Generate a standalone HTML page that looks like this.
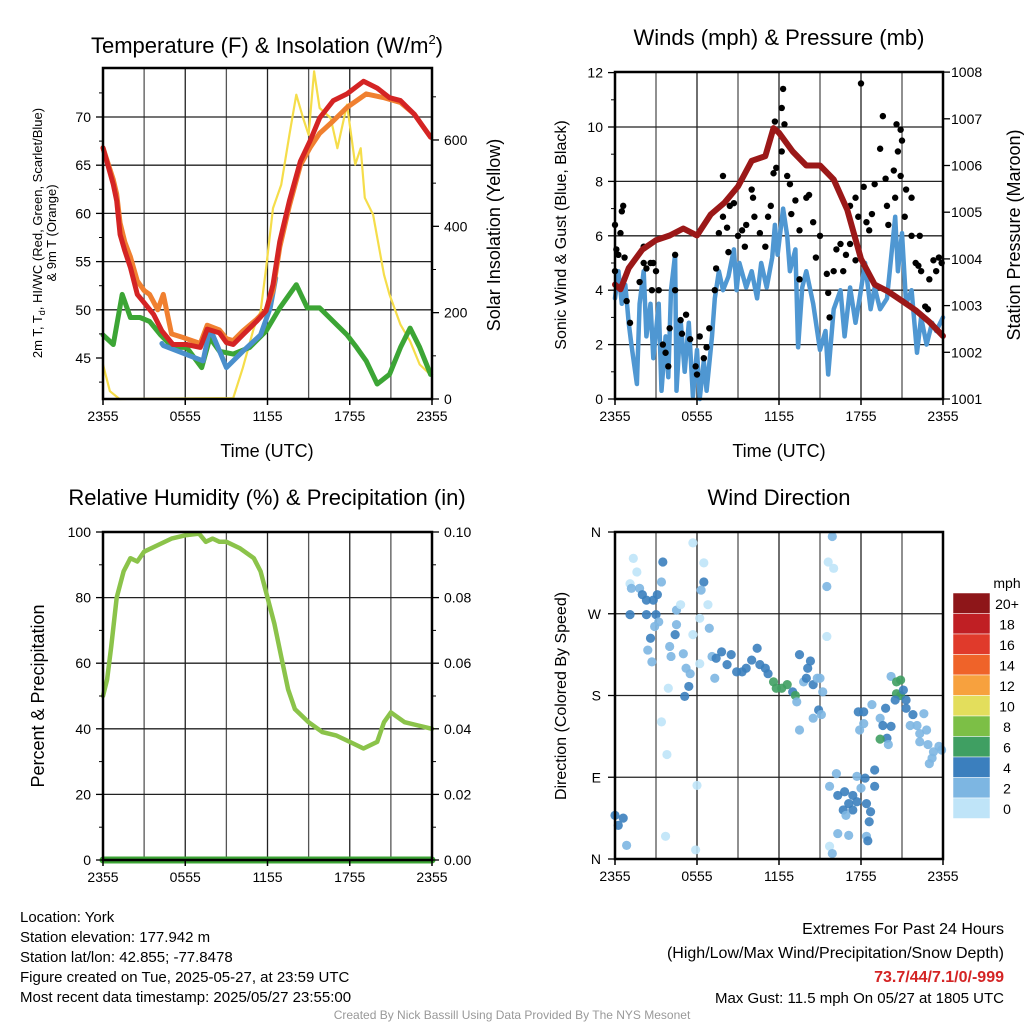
<!DOCTYPE html>
<html><head><meta charset="utf-8"><style>
body{margin:0;background:#fff;width:1024px;height:1024px;overflow:hidden}
svg{font-family:"Liberation Sans",sans-serif}
</style></head><body>
<svg id="c" width="1024" height="1024" xmlns="http://www.w3.org/2000/svg"></svg>
<script>
// ---- data (hours since 2355 UTC) ----
const tempHours=[0,0.75,1,1.25,1.6,2,2.5,2.9,3.7,4.3,5.1,6.1,7.1,7.6,8.5,9,9.5,10.2,11.2,11.9,12.4,12.9,13.6,14.4,15.1,15.8,16.8,17.8,19,20,20.9,21.7,22.7,23.9];
const tempRed=[66.8,63,61.3,57.8,56.1,54.4,51.6,50.9,49.5,47.8,46.4,46.4,46.1,48,47.6,46.6,46.4,47.4,48.8,49.9,52.6,57.1,61.3,65.4,67.5,69.9,71.7,72.4,73.7,73,72,71.7,70.3,67.9];
const orangeHours=[0,0.75,1,1.25,1.6,2,2.5,3,3.4,4,4.4,5,5.9,7.1,7.6,8.5,9,9.5,10.2,11.2,11.9,12.4,12.9,13.6,14.4,15.1,15.8,16.8,17.8,19.2,20.5,21.7,22.7,23.9];
const tempOrange=[66.8,63.5,62,59,57,55.5,53,52,51.6,50,51.6,47.5,47.1,46.5,48.4,47.9,47,46.8,47.8,49,50,52,56.5,60.8,65,66.8,68.3,69.6,71,72.4,72,71.5,70.3,67.9];
const dewHours=[4.3,4.4,7.3,7.8,8.3,9,9.5,10.2,11.5,12.2,12.6];
const dewBlue=[46.5,46.3,44.7,48.1,46.4,44,44.7,45.7,47.4,50.2,53.3];
const wcHours=[0,0.75,1.4,2,2.7,3.4,4.2,5.1,6.1,7.2,7.8,8.5,9.5,10.7,11.9,12.9,14.1,14.9,15.8,16.8,17.8,18.5,19.2,20,20.9,21.7,22.4,23.1,23.9];
const wcGreen=[47.4,46.4,51.6,49.2,49.2,48.8,47.4,46.1,46.1,44,47.1,45.7,45.4,46.1,47.8,50.2,52.6,50.2,50.2,48.8,47.4,46.1,44.7,42.3,43.3,46.1,48.1,46.1,43.3];
const solHours=[0,0.5,1.2,9.5,10.2,11,11.5,11.9,12.4,13,13.6,14.1,14.6,15,15.4,15.8,16.6,17.1,17.8,18.4,18.8,19.1,19.7,20.5,20.9,21.7,22.4,23.1,23.9];
const solVals=[80,18,0,2,72,164,203,303,442,496,612,705,651,612,759,674,651,581,682,543,581,466,427,288,242,172,134,80,56];

const spdHours=[0,0.25,0.5,0.75,1,1.2,1.6,1.8,2.1,2.3,2.6,2.8,3.2,3.4,3.7,3.9,4.1,4.4,4.5,4.8,5.1,5.4,5.7,6,6.2,6.5,6.7,7.1,7.3,7.6,7.9,8.3,8.7,8.9,9.1,9.6,10,10.4,10.7,11.1,11.5,11.7,11.9,12.3,12.6,12.8,13.2,13.4,13.7,14,14.5,15,15.4,15.6,16,16.5,16.8,17.2,17.6,17.9,18.3,18.7,19,19.4,19.9,20.2,20.5,20.7,21,21.3,21.7,22.1,22.4,22.8,23.2,23.5,24];
const spdVals=[3.7,4.7,3.5,4.2,2.8,2.0,0.55,3.5,4.7,2.3,3.5,1.5,3.5,0.3,2.3,0.8,4.0,5.3,0.3,2.9,1.0,2.8,0.1,1.8,0,1.4,0.3,2.3,3.7,4.7,4.0,4.5,5.5,4.0,5.0,4.1,4.7,3.7,5.0,4.1,5.2,6.4,5.3,7.0,6.0,4.7,5.5,1.9,4.1,4.7,3.5,1.8,2.5,0.9,3.3,4.0,2.3,4.1,2.8,3.7,5.0,3.3,4.1,3.3,3.7,5.2,6.7,4.7,6.1,3.5,4.0,1.7,3.0,2.0,2.8,2.5,3.0];
const gustHours=[0,0,0.1,0.25,0.4,0.5,0.6,0.7,0.85,1.1,1.8,2.1,2.1,2.3,2.6,2.8,2.7,3,3.2,3.5,3.7,3.9,4,4.4,4.4,4.8,4.9,5.2,5.5,5.9,6,6.2,6.5,6.7,6.9,7.3,7.4,7.6,7.9,7.9,8.2,8.3,8.4,8.7,9,9.3,9.5,9.6,10,10.1,10.2,10.6,11,11.2,11.4,11.6,11.7,11.8,12.2,12.3,12.4,12.2,12.6,12.8,12.9,13.2,13.5,13.5,14,14.2,14.5,14.7,15,15.5,15.6,15.7,16,16.2,16.5,16.7,16.9,17.2,17.6,17.2,17.6,17.8,18,18.2,18.4,18.6,18.8,19,19.4,19.6,19.8,19.9,20,20.4,20.5,20.6,20.9,20.7,21,20.9,21.3,21.2,21.7,21.7,22,22.2,22.4,22.3,22.7,22.9,23,23.3,23.5,23.7,23.9];
const gustVals=[4.7,6.4,5.5,5.3,6.1,6.9,7.1,5.2,3.6,2.8,4.3,5,5.6,4.8,5,5,4,4.7,4,2,1.7,1.2,2.6,5.3,4,2.9,2.4,3.1,2.2,1.2,0.9,2.3,1.5,1.9,2.6,4,4.8,6.1,6.7,8.2,6.3,5.4,7.1,7.2,6,6.2,5.6,6.4,7.7,7.4,6.7,6.1,5.6,6.7,7.1,8.3,10.2,8.5,10.7,11.4,10.1,9.1,8.2,7.9,6.8,7.3,6.2,4.4,7.4,7.5,6.5,5.2,6,4.6,3.9,3,4.7,5.5,5.7,4.7,5.3,5.7,5.1,7.1,7.4,6.7,11.6,7.8,6.5,6.2,6.8,7.9,9.2,10.4,8.1,7.1,6.4,8.4,7.4,10.1,9.9,9.1,9.5,8.2,7.7,6.7,7.4,6,5,4.9,4.7,6,3.4,3.3,4.4,5.1,4.7,5.2,5];
const presHours=[0,0.4,1,2,3,4,5,6,7,8,9,10,11,11.6,12,13,14,15,16,17,18,19,20,21,22,23,24];
const presVals=[1003.45,1003.35,1003.8,1004.2,1004.4,1004.5,1004.65,1004.5,1004.95,1005.2,1005.55,1006.1,1006.2,1006.8,1006.7,1006.3,1006.0,1006.0,1005.7,1005.05,1004.0,1003.45,1003.3,1003.1,1002.9,1002.65,1002.35];

const rhHours=[0,0.3,0.6,1,1.5,2,2.5,3,4,5,6,7,7.5,8,8.5,9,10,11,11.5,12,12.5,13,13.5,14,15,16,17,18,19,20,20.5,21,22,23,24];
const rhVals=[50,55,65,80,88,92,91,94,96,98,99,99.5,97,98,97,97,95,92,88,80,72,62,52,46,42,39,38,36,34,36,42,45,42,41,40];
const precipHours=[0,24];
const precipVals=[0,0];

const dirHours=[0,0.24,0.6,0.85,1.34,1.6,1.1,1.2,1.8,2.0,2.3,2.8,3.1,3.5,3.4,1.1,2.3,3.0,3.2,2.9,2.6,2.4,2.7,3.4,3.8,3.9,4.0,4.4,4.5,4.8,4.5,4.1,5.0,5.2,5.5,5.1,5.4,5.7,5.7,6.0,5.9,3.7,6.2,6.5,6.3,6.8,6.5,6.2,6.9,7.1,7.3,7.4,7.8,8.2,8.5,8.9,9.3,9.6,10.0,10.4,10.6,11.0,11.2,11.6,11.8,12.2,12.6,13.0,13.2,13.3,13.5,13.8,14.0,14.1,14.3,14.5,14.8,15.0,15.2,14.9,14.5,13.5,15.1,15.5,15.5,15.6,16.0,15.9,15.7,15.9,16.2,15.7,16.3,16.8,17.1,17.4,17.7,16.7,17.4,16.9,16.3,17.1,17.8,18.2,18.2,17.9,17.7,18.3,18.0,18.4,18.7,18.6,18.4,18.5,19.0,19.0,18.8,19.4,19.6,19.8,20.2,19.9,20.0,19.4,20.2,20.6,20.9,20.6,20.9,21.1,20.5,21.3,21.3,21.8,21.6,22.1,22.6,22.3,22.8,22.9,23.3,23.7,23.9,23.2,23.0,22.3];
const dirVals=[48,37,45,15,331,316,303,298,298,291,285,285,291,327,305,269,269,269,261,256,243,230,217,151,115,188,234,247,274,280,258,223,226,210,204,179,190,348,247,81,10,25,215,305,296,280,326,265,254,223,199,221,228,214,225,206,206,210,219,232,214,210,204,195,188,188,192,184,180,173,225,195,199,210,218,192,199,199,184,164,155,142,159,245,300,327,320,355,14,6,94,80,70,74,61,70,63,54,54,48,28,26,162,162,149,142,91,89,78,61,52,41,25,20,98,80,170,155,147,166,146,133,126,132,201,195,197,182,180,186,175,175,166,159,147,147,160,138,142,126,118,124,120,111,105,129];
const dirSpeeds=[5,5,5,3,1,1,1,3,3,5,5,5,5,5,3,5,5,5,3,3,5,3,3,1,1,1,3,5,3,1,3,3,3,3,3,5,5,1,1,1,1,1,1,5,3,1,1,1,3,3,3,5,5,5,5,5,5,5,5,5,5,5,5,7,7,7,7,5,7,3,5,3,5,5,5,5,3,3,3,5,3,3,3,1,3,1,1,3,1,3,3,3,5,5,5,5,5,5,5,3,3,3,5,5,3,3,3,5,3,5,5,5,3,5,5,5,3,3,5,5,5,5,3,7,3,7,7,7,7,5,5,5,5,5,3,3,3,3,3,3,3,3,3,3,3,3,3];
const cbLabels=["20+","18","16","14","12","10","8","6","4","2","0"];
const cbColors=["#8e1619","#c01f24","#e03a2b","#ef6329","#f7a13e","#e3de5c","#7cbf46","#3f9f62","#3b7fbe","#7db6e2","#bfe4f8"];
const timeLabels=["2355","0555","1155","1755","2355"];

// ---- helpers ----
const svg=document.getElementById('c');
const NS="http://www.w3.org/2000/svg";
function mk(tag,attrs,parent){const e=document.createElementNS(NS,tag);for(const k in attrs)e.setAttribute(k,attrs[k]);(parent||svg).appendChild(e);return e;}
function txt(x,y,s,size,anchor,extra){const e=mk('text',Object.assign({x:x,y:y,'font-size':size,'text-anchor':anchor||'middle',fill:'#000'},extra||{}));e.textContent=s;return e;}
function line(pts,color,w,g){return mk('polyline',{points:pts.map(p=>p[0].toFixed(1)+','+p[1].toFixed(1)).join(' '),fill:'none',stroke:color,'stroke-width':w,'stroke-linejoin':'round','stroke-linecap':'round'},g);}

function panel(name,L,T,R,B,hGrid){
  const g=mk('g',{});
  
  
  const fx=h=>L+h*(R-L)/24;
  for(let h=3;h<24;h+=3){mk('line',{x1:fx(h),x2:fx(h),y1:T,y2:B,stroke:(h%6==0?'#222':'#555'),'stroke-width':1.3},g);}
  hGrid.forEach(y=>mk('line',{x1:L,x2:R,y1:y,y2:y,stroke:'#222','stroke-width':1.3},g));
  timeLabels.forEach((s,i)=>{const x=fx(i*6);const t=txt(x,B+22,s,14);mk('line',{x1:x,x2:x,y1:B,y2:B+6,stroke:'#000','stroke-width':1.5});});
  return {g,fx};
}
function frame(L,T,R,B){mk('rect',{x:L,y:T,width:R-L,height:B-T,fill:'none',stroke:'#000','stroke-width':2.5});}

// ---- Panel 1 Temperature ----
{const L=103,T=68,R=432,B=399;
 const fy=v=>358-(v-45)*9.64, fs=v=>399-v*0.4317;
 const p=panel('temperature-panel',L,T,R,B,[70,65,60,55,50].map(fy));
 const fx=p.fx;
 line(solHours.map((h,i)=>[fx(h),fs(solVals[i])]),'#f5dd4a',2.2,p.g);
 line(wcHours.map((h,i)=>[fx(h),fy(wcGreen[i])]),'#3ca535',5,p.g);
 line(dewHours.map((h,i)=>[fx(h),fy(dewBlue[i])]),'#4a8fcc',5,p.g);
 line(orangeHours.map((h,i)=>[fx(h),fy(tempOrange[i])]),'#f08030',5,p.g);
 line(tempHours.map((h,i)=>[fx(h),fy(tempRed[i])]),'#d42424',5,p.g);
 frame(L,T,R,B);
 [70,65,60,55,50,45].forEach(v=>{mk('line',{x1:L-7,x2:L,y1:fy(v),y2:fy(v),stroke:'#000','stroke-width':1.3});txt(L-12,fy(v)+5,v,14,'end');});
 [72.5,67.5,62.5,57.5,52.5,47.5,42.5].forEach(v=>mk('line',{x1:L-4,x2:L,y1:fy(v),y2:fy(v),stroke:'#000'}));
 [0,200,400,600].forEach(v=>{mk('line',{x1:R,x2:R+7,y1:fs(v),y2:fs(v),stroke:'#000','stroke-width':1.3});txt(R+12,fs(v)+5,v,14,'start');});
 [100,300,500,700].forEach(v=>mk('line',{x1:R,x2:R+4,y1:fs(v),y2:fs(v),stroke:'#000'}));
 const t=txt(267,53,'Temperature (F) & Insolation (W/m',22);const ts=mk('tspan',{'font-size':13,dy:-9},t);ts.textContent='2';const tc=mk('tspan',{dy:9},t);tc.textContent=')';
 
 txt(267,457,'Time (UTC)',18);
 const yl=mk('text',{x:0,y:0,'font-size':13,'text-anchor':'middle',transform:'translate(42,233) rotate(-90)'});yl.textContent='2m T, T';const sub=mk('tspan',{'font-size':9,dy:3},yl);sub.textContent='d';const r2=mk('tspan',{dy:-3},yl);r2.textContent=', HI/WC (Red, Green, Scarlet/Blue)';
 const yl2=mk('text',{x:0,y:0,'font-size':13,'text-anchor':'middle',transform:'translate(56,233) rotate(-90)'});yl2.textContent='& 9m T (Orange)';
 const yr=mk('text',{x:0,y:0,'font-size':18,'text-anchor':'middle',transform:'translate(500,235) rotate(-90)'});yr.textContent='Solar Insolation (Yellow)';
}
// ---- Panel 2 Winds ----
{const L=615,T=72,R=943,B=399;
 const fy=v=>399-v*27.2, fp=v=>399-(v-1001)*46.7;
 const p=panel('winds-panel',L,T,R,B,[2,4,6,8,10].map(fy));const fx=p.fx;
 line(spdHours.map((h,i)=>[fx(h),fy(spdVals[i])]),'#4f97d2',4.5,p.g);
 gustHours.forEach((h,i)=>{const c=mk('circle',{cx:fx(h),cy:fy(gustVals[i]),r:3.2,fill:'#000'},p.g);
   
   });
 line(presHours.map((h,i)=>[fx(h),fp(presVals[i])]),'#9b1818',6,p.g);
 frame(L,T,R,B);
 [0,2,4,6,8,10,12].forEach(v=>{mk('line',{x1:L-7,x2:L,y1:fy(v),y2:fy(v),stroke:'#000','stroke-width':1.3});txt(L-12,fy(v)+5,v,14,'end');});
 [1,3,5,7,9,11].forEach(v=>mk('line',{x1:L-4,x2:L,y1:fy(v),y2:fy(v),stroke:'#000'}));
 for(let v=1001;v<=1008;v++){mk('line',{x1:R,x2:R+7,y1:fp(v),y2:fp(v),stroke:'#000','stroke-width':1.3});txt(R+8,fp(v)+5,v,14,'start');}
 txt(779,45,'Winds (mph) & Pressure (mb)',22);
 txt(779,457,'Time (UTC)',18);
 const yl=mk('text',{x:0,y:0,'font-size':16,'text-anchor':'middle',transform:'translate(566,235) rotate(-90)'});yl.textContent='Sonic Wind & Gust (Blue, Black)';
 const yr=mk('text',{x:0,y:0,'font-size':18,'text-anchor':'middle',transform:'translate(1020,235) rotate(-90)'});yr.textContent='Station Pressure (Maroon)';
}
// ---- Panel 3 RH ----
{const L=103,T=532,R=432,B=860;
 const fy=v=>860-v*3.28;
 const p=panel('humidity-panel',L,T,R,B,[20,40,60,80].map(fy));const fx=p.fx;
 line(rhHours.map((h,i)=>[fx(h),fy(rhVals[i])]),'#8bc34a',4.5,p.g);
 line(precipHours.map((h,i)=>[fx(h),860-precipVals[i]*3280]),'#3ca535',7,p.g);
 frame(L,T,R,B);
 [0,20,40,60,80,100].forEach(v=>{mk('line',{x1:L-7,x2:L,y1:fy(v),y2:fy(v),stroke:'#000','stroke-width':1.3});txt(L-12,fy(v)+5,v,14,'end');});
 [0,0.02,0.04,0.06,0.08,0.10].forEach((v,i)=>{const y=fy(i*20);mk('line',{x1:R,x2:R+7,y1:y,y2:y,stroke:'#000','stroke-width':1.3});txt(R+12,y+5,v.toFixed(2),14,'start');});
 for(let v=10;v<100;v+=20){mk('line',{x1:L-4,x2:L,y1:fy(v),y2:fy(v),stroke:'#000'});mk('line',{x1:R,x2:R+4,y1:fy(v),y2:fy(v),stroke:'#000'});}
 txt(267,505,'Relative Humidity (%) & Precipitation (in)',22);
 const yl=mk('text',{x:0,y:0,'font-size':18,'text-anchor':'middle',transform:'translate(44,696) rotate(-90)'});yl.textContent='Percent & Precipitation';
}
// ---- Panel 4 Wind direction ----
{const L=615,T=532,R=943,B=859;
 const fy=d=>859-d*(327/360);
 const p=panel('wind-direction-panel',L,T,R,B,[90,180,270].map(fy));const fx=p.fx;
 const col=s=>cbColors[10-Math.min(10,Math.floor(s/2))];
 dirHours.forEach((h,i)=>{const c=mk('circle',{cx:fx(h),cy:fy(dirVals[i]),r:4.6,fill:col(dirSpeeds[i]),'fill-opacity':0.9},p.g);
   
   });
 frame(L,T,R,B);
 [['N',0],['E',90],['S',180],['W',270],['N',360]].forEach(a=>{mk('line',{x1:L-7,x2:L,y1:fy(a[1]),y2:fy(a[1]),stroke:'#000','stroke-width':1.3});txt(L-14,fy(a[1])+5,a[0],14,'end');});
 txt(779,505,'Wind Direction',22);
 const yl=mk('text',{x:0,y:0,'font-size':16,'text-anchor':'middle',transform:'translate(566,696) rotate(-90)'});yl.textContent='Direction (Colored By Speed)';
 const cb=mk('g',{});
 
 
 txt(1007,588,'mph',14,'middle',{});
 cbColors.forEach((c,i)=>{mk('rect',{x:953,y:593+i*20.5,width:37,height:20.5,fill:c,stroke:'#fff','stroke-width':0.5},cb);txt(1007,609+i*20.5,cbLabels[i],14,'middle');});
}
// ---- footer text ----
const left=["Location: York","Station elevation: 177.942 m","Station lat/lon: 42.855; -77.8478","Figure created on Tue, 2025-05-27, at 23:59 UTC","Most recent data timestamp: 2025/05/27 23:55:00"];
left.forEach((s,i)=>{const t=txt(20,922+i*20,s,15,'start');});
txt(1004,934,'Extremes For Past 24 Hours',16,'end');
txt(1004,958,'(High/Low/Max Wind/Precipitation/Snow Depth)',16,'end');
txt(1004,982,'73.7/44/7.1/0/-999',16,'end',{fill:'#d42424','font-weight':'bold'});
txt(1004,1003,'Max Gust: 11.5 mph On 05/27 at 1805 UTC',15,'end');
txt(512,1019,'Created By Nick Bassill Using Data Provided By The NYS Mesonet',12,'middle',{fill:'#999'});
</script>
</body></html>
